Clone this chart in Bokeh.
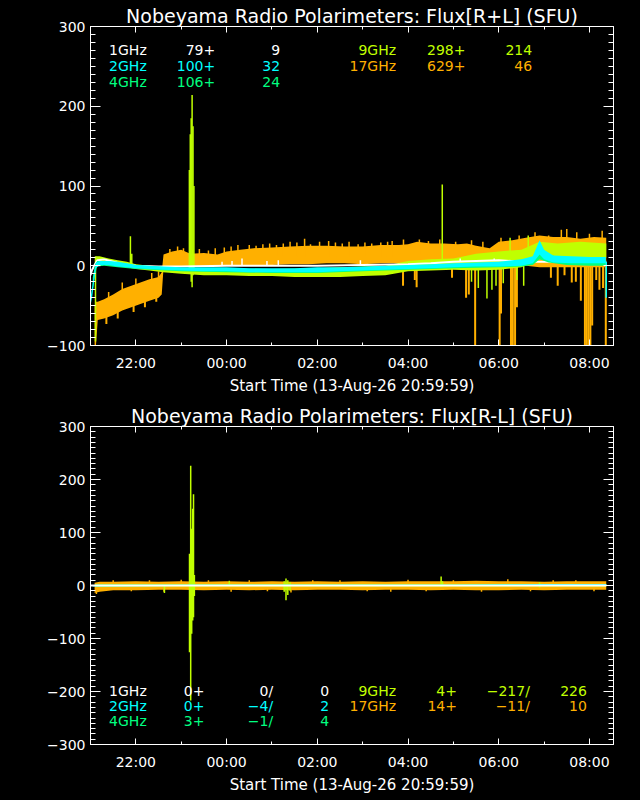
from bokeh.plotting import figure
from bokeh.models import LinearAxis, FixedTicker, Range1d, Label, GlobalInlineStyleSheet
from bokeh.layouts import column
from bokeh.embed import file_html
from bokeh.resources import INLINE

FONT = "DejaVu Sans"

# ---------------- axes / texts ----------------
x_tick_hours = [1, 3, 5, 7, 9, 11]
x_tick_labels = ["22:00", "00:00", "02:00", "04:00", "06:00", "08:00"]
x_minor_hours = [2, 4, 6, 8, 10]
x_axis_label = "Start Time (13-Aug-26 20:59:59)"
x_end = 11.53

sum_title = "Nobeyama Radio Polarimeters: Flux[R+L] (SFU)"
dif_title = "Nobeyama Radio Polarimeters: Flux[R-L] (SFU)"

sum_y_ticks = [-100, 0, 100, 200, 300]
sum_y_labels = ["\u2212100", "0", "100", "200", "300"]
dif_y_ticks = [-300, -200, -100, 0, 100, 200, 300]
dif_y_labels = ["\u2212300", "\u2212200", "\u2212100", "0", "100", "200", "300"]

freqs = ["1GHz", "2GHz", "4GHz", "9GHz", "17GHz"]
colors = ["#FFFFFF", "#00FFFF", "#00FF80", "#C0FF00", "#FFB000"]
sum_base = ["79+", "100+", "106+", "298+", "629+"]
sum_peak = ["9", "32", "24", "214", "46"]
dif_base = ["0+", "0+", "3+", "4+", "14+"]
dif_min = ["0/", "\u22124/", "\u22121/", "\u2212217/", "\u221211/"]
dif_max = ["0", "2", "4", "226", "10"]

# ---------------- R+L data (hours after 20:59:59, SFU) ----------------
sum17_t = [0.09, 0.12, 0.16, 0.30, 0.50, 0.70, 0.90, 1.10, 1.30, 1.50, 1.57, 1.61, 1.80, 2.00, 2.20,
           2.50, 2.80, 3.00, 3.30, 3.60, 4.00, 4.40, 4.80, 5.20, 5.60, 6.00, 6.40, 6.80, 7.00, 7.20,
           7.50, 7.80, 8.10, 8.30, 8.50, 8.80, 9.00, 9.30, 9.60, 9.90, 10.20, 10.50, 10.80, 11.10, 11.37]
sum17_lo = [-100, -100, -68, -66, -62, -56, -52, -48, -44, -40, -36, -3, -2, -1, -2,
            -1, -1, 0, 0, 1, 1, 2, 2, 3, 3, 2, 3, 3, -6, 4,
            5, 5, 5, 6, 0, 0, 2, 3, 0, -2, -2, -2, -2, -2, -2]
sum17_hi = [-50, -45, -45, -42, -36, -29, -25, -21, -17, -14, -8, 14, 18, 20, 15,
            16, 14, 18, 20, 22, 23, 24, 25, 25, 24, 24, 26, 26, 27, 30,
            28, 28, 27, 28, 25, 22, 30, 32, 35, 38, 36, 36, 34, 36, 35]
sum17_up_t = [0.40, 0.70, 1.00, 1.35, 1.50,
              1.75, 1.92, 2.05, 2.25, 2.40, 2.60, 2.75, 2.95, 3.10, 3.25, 3.50, 3.65, 3.80, 3.95,
              4.10, 4.25, 4.40, 4.55, 4.72, 4.85, 5.05, 5.25, 5.40, 5.55, 5.70, 5.90, 6.05, 6.20,
              6.40, 6.55, 6.65, 6.90, 7.25, 7.45, 7.70, 8.05, 8.40, 8.65, 9.05, 9.45, 9.80,
              10.10, 10.38, 10.50, 10.72, 11.00, 11.28]
sum17_up_from = [-40, -30, -25, -18, -15,
                 10, 10, 10, 8, 8, 8, 8, 10, 10, 10, 12, 12, 12, 12,
                 12, 12, 12, 12, 12, 12, 12, 12, 12, 12, 12, 12, 12, 12,
                 12, 12, 12, 12, 14, 14, 14, 14, 14, 14, 14, 14, 14,
                 14, 14, 14, 14, 14, 14]
sum17_up_to = [-33, -21, -16, -9, -7,
               21, 24, 22, 20, 21, 19, 22, 23, 24, 26, 26, 25, 27, 28,
               26, 28, 30, 29, 34, 27, 30, 31, 29, 28, 30, 27, 29, 28,
               29, 30, 31, 33, 33, 31, 33, 30, 32, 30, 35, 38, 42,
               38, 45, 46, 42, 40, 44]
sum17_dip_t = [0.35, 0.60, 0.95, 1.20, 1.45,
               6.89, 7.15, 7.19, 7.97, 8.28, 8.34, 8.48, 9.02, 9.05, 9.27, 9.31, 9.36, 9.40,
               10.15, 10.30, 10.45, 10.61, 10.70, 10.81, 10.90, 10.94, 10.98, 11.02, 11.06,
               11.15, 11.22, 11.30, 11.36]
sum17_dip_from = [-60, -55, -48, -44, -38,
                  5, 5, 5, 6, 6, 6, 5, 5, 5, 5, 5, 5, 5,
                  2, 2, 2, 2, 2, 2, 2, 2, 2, 2, 2,
                  2, 2, 2, 2]
sum17_dip_to = [-73, -66, -58, -52, -45,
                -25, -18, -27, -15, -40, -36, -100, -100, -60, -100, -100, -100, -52,
                -15, -25, -12, -21, -20, -44, -100, -100, -100, -100, -75,
                -18, -30, -28, -100]

sum9_t = [0.12, 0.20, 0.40, 0.60, 0.80, 1.00, 1.30, 1.60, 2.00, 2.50, 3.00, 3.50, 4.00, 4.50,
          5.00, 5.50, 6.00, 6.50, 7.00, 7.50, 8.00, 8.50, 9.00, 9.50, 9.90, 10.30, 10.80, 11.37]
sum9_lo = [2, 3, 1, -1, -2, -4, -6, -8, -10, -12, -12, -13, -13, -14,
           -14, -14, -13, -12, -7, -6, -5, -6, -5, -2, 8, 10, 11, 10]
sum9_hi = [12, 12, 9, 7, 5, 2, 0, -1, -3, -4, -5, -5, -5, -5,
           -3, -2, -1, 0, 6, 8, 9, 15, 18, 20, 30, 28, 30, 28]
sum9_sp_t = [0.11, 0.88, 0.91, 2.18, 2.20, 2.22, 2.24, 2.26, 2.28, 7.755,
             8.40, 8.55, 8.74, 8.85, 8.94, 9.10, 9.25, 9.40, 9.55, 9.65]
sum9_sp_from = [-95, 0, 0, -5, -10, -20, -27, -12, -5, 0,
                0, 0, 0, 0, 0, 0, 12, 0, 0, 14]
sum9_sp_to = [12, 37, 15, 120, 165, 185, 214, 175, 100, 102,
              -20, -28, -41, -30, -25, -22, 35, -18, -25, 38]

sum4_t = [0.05, 0.10, 0.15, 0.30, 0.60, 1.00, 2.00, 3.00, 4.00, 5.00, 6.00, 7.00, 8.00, 9.00,
          9.50, 9.75, 9.90, 10.10, 10.50, 11.00, 11.36]
sum4_lo = [-30, -10, -1, 0, -2, -4, -7, -8, -9, -9, -7, -5, -3, -2, -1, 1, 8, 4, 1, 0, 0]
sum4_hi = [-15, 2, 6, 6, 4, 1, -3, -3, -4, -3, -2, 0, 2, 4, 6, 10, 24, 14, 8, 7, 7]

sum2_t = [0.00, 0.04, 0.08, 0.12, 0.20, 0.40, 0.60, 0.80, 1.00, 1.30, 1.60, 2.00, 2.50, 3.00,
          3.50, 4.00, 4.50, 5.00, 5.50, 6.00, 6.50, 7.00, 7.50, 8.00, 8.50, 9.00, 9.50, 9.75,
          9.90, 10.00, 10.20, 10.60, 11.00, 11.36]
sum2_lo = [-50, -38, -20, -3, 1, 1, -1, -2, -3, -4, -5, -6, -7, -7,
           -8, -8, -8, -8, -7, -6, -5, -4, -3, -2, -1, -1, 0, 3,
           14, 8, 4, 3, 3, 3]
sum2_hi = [-40, -25, -8, 4, 6, 6, 5, 3, 1, 0, -1, -2, -2, -2,
           -3, -3, -3, -2, -2, -1, 0, 1, 2, 3, 4, 5, 8, 12,
           32, 20, 13, 12, 11, 11]
sum2_sp_t = [11.37]
sum2_sp_from = [5]
sum2_sp_to = [-40]

sum1_t = [0.00, 0.03, 0.08, 0.15, 0.30, 0.50, 0.70, 1.00, 1.50, 2.00, 3.00, 4.00, 5.00, 6.00,
          7.00, 7.50, 8.00, 8.50, 9.00, 9.50, 10.00, 10.50, 11.00, 11.37]
sum1_v = [-12, -6, 0, 7, 8, 5, 2, 0, -1, -1, 0, 0, 0, 1, 2, 3, 5, 6, 7, 5, 5, 5, 5, 5]
sum1_sp_t = [2.90, 3.12, 3.34, 3.89, 4.14, 5.95, 8.15, 8.90]
sum1_sp_from = [0, 0, 0, 0, 0, 1, 5, 7]
sum1_sp_to = [5, 6, 9, 6, 7, 7, 9, 9]

# ---------------- R-L data ----------------
dif17_t = [0.09, 0.20, 0.50, 1.00, 1.50, 2.00, 2.50, 3.00, 3.50, 4.00, 4.50, 5.00, 5.50, 6.00,
           6.50, 7.00, 7.50, 8.00, 8.50, 9.00, 9.50, 10.00, 10.50, 11.00, 11.37]
dif17_lo = [-14, -12, -9, -9, -8, -8, -9, -8, -9, -8, -9, -8, -8, -9, -8, -8, -9, -8, -9, -9, -8, -9, -8, -8, -8]
dif17_hi = [5, 7, 7, 8, 7, 8, 7, 8, 7, 8, 7, 8, 7, 8, 7, 8, 8, 8, 9, 8, 8, 7, 8, 8, 8]
dif17_sp_t = [0.13, 0.50, 0.90, 1.30, 1.62, 2.00, 2.60, 3.10, 3.50, 3.90, 4.42, 4.90, 5.50, 6.10,
              6.62, 7.00, 7.40, 8.00, 8.62, 9.20, 9.70, 10.20, 10.70, 11.10]
dif17_sp_from = [0, 0, 0, 0, 0, 0, 0, 0, 0, 0, 0, 0, 0, 0, 0, 0, 0, 0, 0, 0, 0, 0, 0, 0]
dif17_sp_to = [-16, 10, -11, 10, -12, 11, 10, -12, 10, -11, -13, 10, 10, -11,
               -12, 11, -11, 10, -12, 12, -11, 10, 10, -11]

dif9_t = [0.10, 1.00, 2.00, 3.00, 4.00, 5.00, 6.00, 7.00, 8.00, 9.00, 10.00, 11.37]
dif9_lo = [-3, -2, -2, -2, -2, -2, -2, -2, -2, -2, -2, -2]
dif9_hi = [2, 2, 2, 2, 2, 2, 2, 2, 2, 2, 2, 2]
dif9_sp_t = [1.63, 2.183, 2.209, 2.231, 2.253, 2.271, 2.29, 3.06, 4.27, 4.31, 4.35, 4.40, 7.73, 7.76, 9.90]
dif9_sp_from = [0, -126, -217, -91, -66, -60, -20, 0, -12, -28, -18, -10, -3, -2, -4]
dif9_sp_to = [-14, 60, 226, 107, 145, 172, 20, 9, 8, 13, 10, 6, 17, 8, 6]

dif4_t = [0.10, 2.00, 4.00, 6.00, 8.00, 10.00, 11.37]
dif4_lo = [-1, -1, -1, -1, -1, -1, -1]
dif4_hi = [2, 2, 2, 2, 2, 3, 3]

dif2_t = [0.05, 2.00, 4.00, 6.00, 8.00, 9.50, 10.00, 11.37]
dif2_lo = [-2, -1, -1, -1, -1, 0, 0, 0]
dif2_hi = [1, 1, 1, 1, 1, 2, 3, 3]

dif1_t = [0.00, 11.37]
dif1_v = [0, 0]


def style_axis(ax, ticks, minor, labels, tick_len, minor_len, show):
    ax.ticker = FixedTicker(ticks=ticks, minor_ticks=minor)
    ax.axis_line_color = "white"
    ax.major_tick_line_color = "white"
    ax.minor_tick_line_color = "white"
    ax.major_tick_in = tick_len
    ax.major_tick_out = 0
    ax.minor_tick_in = minor_len
    ax.minor_tick_out = 0
    if show:
        ax.major_label_overrides = dict(zip(ticks, labels))
        ax.major_label_text_color = "white"
        ax.major_label_text_font = FONT
        ax.major_label_text_font_size = "14px"
    else:
        ax.major_label_text_font_size = "1px"
        ax.major_label_text_color = None
        ax.major_label_standoff = 0


def make_fig(y_ticks, y_labels, title, fh, top, bottom):
    ymin, ymax = y_ticks[0], y_ticks[-1]
    p = figure(frame_width=523, frame_height=fh,
               x_range=Range1d(0, x_end), y_range=Range1d(ymin, ymax),
               output_backend="svg", toolbar_location=None,
               min_border_left=90, min_border_right=24,
               min_border_top=top, min_border_bottom=bottom,
               background_fill_color="black", border_fill_color="black",
               outline_line_color="white", title=title)
    p.title.align = "center"
    p.title.text_color = "white"
    p.title.text_font = FONT
    p.title.text_font_size = "19px"
    p.title.text_font_style = "normal"
    p.title.standoff = 0
    p.grid.visible = False
    y_minor = [v for v in range(ymin, ymax + 1, 10) if v % 100 != 0]
    style_axis(p.yaxis[0], y_ticks, y_minor, y_labels, 10, 5, True)
    p.yaxis[0].major_label_standoff = 5
    style_axis(p.xaxis[0], x_tick_hours, x_minor_hours, x_tick_labels, 6, 3, True)
    p.xaxis[0].major_label_standoff = 9
    p.xaxis[0].axis_label = x_axis_label
    p.xaxis[0].axis_label_text_color = "white"
    p.xaxis[0].axis_label_text_font = FONT
    p.xaxis[0].axis_label_text_font_size = "15px"
    p.xaxis[0].axis_label_text_font_style = "normal"
    p.xaxis[0].axis_label_standoff = 3
    ra = LinearAxis()
    style_axis(ra, y_ticks, y_minor, y_labels, 10, 5, False)
    p.add_layout(ra, "right")
    ta = LinearAxis()
    style_axis(ta, x_tick_hours, x_minor_hours, x_tick_labels, 6, 3, False)
    p.add_layout(ta, "above")
    return p


def band(p, t, lo, hi, color):
    p.varea(x=t, y1=lo, y2=hi, fill_color=color)


def spikes(p, t, y0, y1, color, w=1.5):
    p.segment(x0=t, y0=y0, x1=t, y1=y1, line_color=color, line_width=w)


def txt(p, x, y, s, color, align, size="14px"):
    p.add_layout(Label(x=x, y=y, text=s, text_color=color, text_font=FONT,
                       text_font_size=size, text_align=align, text_baseline="alphabetic"))


# ---------------- top: R+L ----------------
p1 = make_fig(sum_y_ticks, sum_y_labels, sum_title, 319, 26, 55)
band(p1, sum17_t, sum17_lo, sum17_hi, colors[4])
spikes(p1, sum17_up_t, sum17_up_from, sum17_up_to, colors[4])
spikes(p1, sum17_dip_t, sum17_dip_from, sum17_dip_to, colors[4], 2)
band(p1, sum9_t, sum9_lo, sum9_hi, colors[3])
spikes(p1, sum9_sp_t, sum9_sp_from, sum9_sp_to, colors[3])
p1.line(sum1_t, sum1_v, line_color=colors[0], line_width=2)
spikes(p1, sum1_sp_t, sum1_sp_from, sum1_sp_to, colors[0])
band(p1, sum4_t, sum4_lo, sum4_hi, colors[2])
band(p1, sum2_t, sum2_lo, sum2_hi, colors[1])
spikes(p1, sum2_sp_t, sum2_sp_from, sum2_sp_to, colors[1])

sum_rows = [270, 250, 231]
for i in range(3):
    txt(p1, 0.41, sum_rows[i], freqs[i], colors[i], "left")
    txt(p1, 2.749, sum_rows[i], sum_base[i], colors[i], "right")
    txt(p1, 4.18, sum_rows[i], sum_peak[i], colors[i], "right")
for j, i in enumerate([3, 4]):
    txt(p1, 6.736, sum_rows[j], freqs[i], colors[i], "right")
    txt(p1, 8.267, sum_rows[j], sum_base[i], colors[i], "right")
    txt(p1, 9.736, sum_rows[j], sum_peak[i], colors[i], "right")

# ---------------- bottom: R-L ----------------
p2 = make_fig(dif_y_ticks, dif_y_labels, dif_title, 318, 26, 48)
band(p2, dif17_t, dif17_lo, dif17_hi, colors[4])
spikes(p2, dif17_sp_t, dif17_sp_from, dif17_sp_to, colors[4])
band(p2, dif9_t, dif9_lo, dif9_hi, colors[3])
spikes(p2, dif9_sp_t, dif9_sp_from, dif9_sp_to, colors[3])
band(p2, dif4_t, dif4_lo, dif4_hi, colors[2])
band(p2, dif2_t, dif2_lo, dif2_hi, colors[1])
p2.line(dif1_t, dif1_v, line_color=colors[0], line_width=2)

dif_rows = [-199, -227.5, -256.5]
for i in range(3):
    txt(p2, 0.41, dif_rows[i], freqs[i], colors[i], "left")
    txt(p2, 2.513, dif_rows[i], dif_base[i], colors[i], "right")
    txt(p2, 4.026, dif_rows[i], dif_min[i], colors[i], "right")
    txt(p2, 5.26, dif_rows[i], dif_max[i], colors[i], "right")
for j, i in enumerate([3, 4]):
    txt(p2, 6.736, dif_rows[j], freqs[i], colors[i], "right")
    txt(p2, 8.079, dif_rows[j], dif_base[i], colors[i], "right")
    txt(p2, 9.687, dif_rows[j], dif_min[i], colors[i], "right")
    txt(p2, 10.943, dif_rows[j], dif_max[i], colors[i], "right")

layout = column(p1, p2, stylesheets=[GlobalInlineStyleSheet(css="html, body { background-color: #000000; }")])

open("out.html", "w").write(file_html(layout, INLINE))
